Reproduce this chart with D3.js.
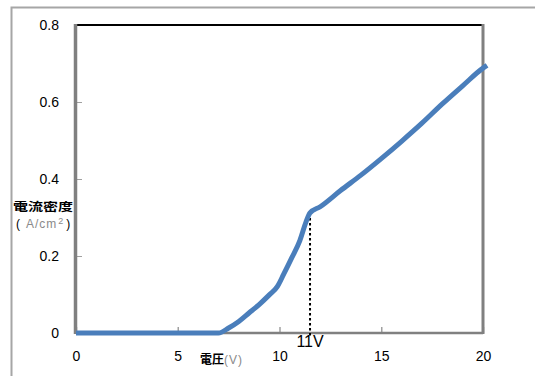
<!DOCTYPE html>
<html>
<head>
<meta charset="utf-8">
<script src="https://cdn.jsdelivr.net/npm/d3@7"></script>
<style>
  html, body { margin: 0; padding: 0; background: #fff; }
  svg { display: block; }
</style>
</head>
<body>
<svg id="chart" width="535" height="376"></svg>
<script>
// Current density vs. applied voltage
const voltage        = [0, 7.0, 7.5, 8.0, 8.5, 9.0, 9.5, 9.9, 10.2, 10.6, 11.0, 11.3, 11.5, 12, 13, 14, 15, 16, 17, 18, 19, 20, 20.2];
const currentDensity = [0, 0, 0.013, 0.03, 0.052, 0.074, 0.099, 0.121, 0.152, 0.195, 0.24, 0.288, 0.312, 0.328, 0.37, 0.41, 0.453, 0.498, 0.545, 0.595, 0.642, 0.688, 0.695];

const xTicks = [0, 5, 10, 15, 20];
const xTickLabels = ["0", "5", "10", "15", "20"];
const yTicks = [0, 0.2, 0.4, 0.6, 0.8];
const yTickLabels = ["0", "0.2", "0.4", "0.6", "0.8"];

// knee of the curve (threshold voltage)
const kneeVoltage = 11.5;
const kneeLabel = "11V";

const svg = d3.select("#chart");
const font = "'Liberation Sans', Arial, sans-serif";
const cjk = "'Noto Sans CJK JP', 'Noto Sans CJK SC', sans-serif";

const x = d3.scaleLinear().domain([0, 20]).range([76, 483]);
const y = d3.scaleLinear().domain([0, 0.8]).range([333, 25]);

// outer chart frame
svg.append("path")
  .attr("d", "M11.5,376 V7.5 H535")
  .attr("fill", "none")
  .attr("stroke", "#a6a6a6")
  .attr("stroke-width", 2);

// y axis ticks and labels
const yAxis = d3.axisLeft(y)
  .tickValues(yTicks)
  .tickFormat((d, i) => yTickLabels[i])
  .tickSizeInner(-6)
  .tickSizeOuter(0)
  .tickPadding(17);
const gy = svg.append("g").attr("transform", `translate(${x(0)},0)`).call(yAxis);
gy.select(".domain").remove();
gy.selectAll(".tick line").attr("stroke", "#a0a0a0").attr("stroke-width", 1);
gy.selectAll(".tick text").attr("font-family", font).attr("font-size", 14).attr("fill", "#000");

// x axis ticks and labels
const xAxis = d3.axisBottom(x)
  .tickValues(xTicks)
  .tickFormat((d, i) => xTickLabels[i])
  .tickSizeInner(-6)
  .tickSizeOuter(0)
  .tickPadding(18);
const gx = svg.append("g").attr("transform", `translate(0,${y(0)})`).call(xAxis);
gx.select(".domain").remove();
gx.selectAll(".tick line").attr("stroke", "#a0a0a0").attr("stroke-width", 1.5);
gx.selectAll(".tick text").attr("font-family", font).attr("font-size", 14).attr("fill", "#000");

// plot border: black top, grey left / right / bottom
svg.append("line")
  .attr("x1", x(0)).attr("x2", x(20))
  .attr("y1", y(0.8)).attr("y2", y(0.8))
  .attr("stroke", "#000").attr("stroke-width", 2);
svg.append("line")
  .attr("x1", x(20)).attr("x2", x(20))
  .attr("y1", y(0.8) - 1).attr("y2", y(0) + 1)
  .attr("stroke", "#808080").attr("stroke-width", 3);
svg.append("line")
  .attr("x1", x(0)).attr("x2", x(20))
  .attr("y1", y(0)).attr("y2", y(0))
  .attr("stroke", "#808080").attr("stroke-width", 2.5);
svg.append("line")
  .attr("x1", x(0) - 0.5).attr("x2", x(0) - 0.5)
  .attr("y1", y(0.8) - 1).attr("y2", y(0) + 1)
  .attr("stroke", "#808080").attr("stroke-width", 3.5);

// dashed drop line from the knee to the x axis
const kneeIndex = voltage.indexOf(kneeVoltage);
svg.append("line")
  .attr("x1", x(kneeVoltage)).attr("x2", x(kneeVoltage))
  .attr("y1", y(currentDensity[kneeIndex])).attr("y2", y(0) + 3)
  .attr("stroke", "#000")
  .attr("stroke-width", 2)
  .attr("stroke-dasharray", "2.5,2.5");

// data curve
const line = d3.line()
  .x((d, i) => x(voltage[i]))
  .y(d => y(d))
  .curve(d3.curveMonotoneX);
svg.append("path")
  .datum(currentDensity)
  .attr("d", line)
  .attr("fill", "none")
  .attr("stroke", "#4a7ebb")
  .attr("stroke-width", 5)
  .attr("stroke-linejoin", "round");

// knee annotation
svg.append("text")
  .attr("x", x(kneeVoltage))
  .attr("y", 347)
  .attr("text-anchor", "middle")
  .attr("font-family", font)
  .attr("font-size", 16)
  .attr("fill", "#000")
  .text(kneeLabel);

// y axis title
svg.append("text")
  .attr("x", 13).attr("y", 211)
  .attr("font-family", cjk)
  .attr("font-weight", "bold")
  .attr("font-size", 11)
  .attr("textLength", 60)
  .attr("lengthAdjust", "spacingAndGlyphs")
  .attr("fill", "#000")
  .text("電流密度");
const yUnit = svg.append("text")
  .attr("x", 16).attr("y", 228)
  .attr("font-family", font)
  .attr("font-size", 12)
  .attr("fill", "#000");
yUnit.append("tspan").text("(");
yUnit.append("tspan").attr("dx", 6).attr("fill", "#8a8a8a").attr("letter-spacing", 1).text("A/cm");
yUnit.append("tspan").attr("font-size", 9).attr("dx", 1).attr("dy", -4).attr("fill", "#8a8a8a").text("2");
yUnit.append("tspan").attr("dx", 3).attr("dy", 4).text(")");

// x axis title
const xTitle = svg.append("text")
  .attr("x", 200).attr("y", 364)
  .attr("font-family", cjk)
  .attr("font-size", 12)
  .attr("fill", "#000");
xTitle.append("tspan").attr("font-weight", "bold").text("電圧");
xTitle.append("tspan").attr("font-family", font).attr("fill", "#8a8a8a").attr("font-size", 12).attr("letter-spacing", 1).text("(V)");
</script>
</body>
</html>
